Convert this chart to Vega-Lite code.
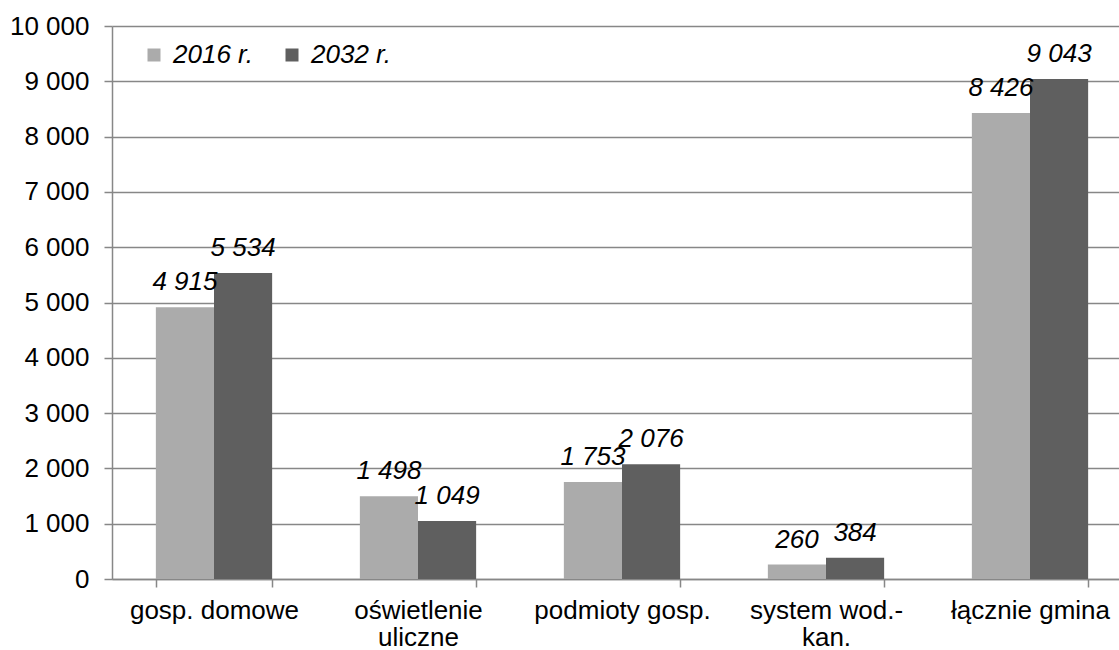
{
  "$schema": "https://vega.github.io/schema/vega-lite/v6.json",
  "width": 1007,
  "height": 553,
  "autosize": "none",
  "padding": {"left": 112, "top": 26, "right": 0, "bottom": 71},
  "background": "white",
  "config": {
    "locale": {"number": {"decimal": ",", "thousands": " ", "grouping": [3], "currency": ["", " zł"]}},
    "view": {"stroke": null},
    "font": "Liberation Sans"
  },
  "data": {
    "values": [
      {"kategoria": "gosp. domowe", "rok": "2016 r.", "wartosc": 4915},
      {"kategoria": "gosp. domowe", "rok": "2032 r.", "wartosc": 5534},
      {"kategoria": "oświetlenie|uliczne", "rok": "2016 r.", "wartosc": 1498},
      {"kategoria": "oświetlenie|uliczne", "rok": "2032 r.", "wartosc": 1049},
      {"kategoria": "podmioty gosp.", "rok": "2016 r.", "wartosc": 1753},
      {"kategoria": "podmioty gosp.", "rok": "2032 r.", "wartosc": 2076},
      {"kategoria": "system wod.-|kan.", "rok": "2016 r.", "wartosc": 260},
      {"kategoria": "system wod.-|kan.", "rok": "2032 r.", "wartosc": 384},
      {"kategoria": "łącznie gmina", "rok": "2016 r.", "wartosc": 8426},
      {"kategoria": "łącznie gmina", "rok": "2032 r.", "wartosc": 9043}
    ]
  },
  "encoding": {
    "x": {
      "field": "kategoria",
      "type": "nominal",
      "sort": null,
      "scale": {"range": [0, 1020], "paddingInner": 0.43, "paddingOuter": 0.215},
      "axis": {
        "title": null,
        "labelAngle": 0,
        "labelExpr": "split(datum.label, '|')",
        "labelFontSize": 26,
        "labelColor": "#000000",
        "labelFont": "Liberation Sans",
        "labelLineHeight": 27,
        "labelPadding": 10,
        "labelBaseline": "top",
        "tickBand": "extent",
        "ticks": true,
        "tickSize": 8,
        "tickColor": "#878787",
        "tickWidth": 1.5,
        "domainColor": "#878787",
        "domainWidth": 1.5,
        "grid": false
      }
    },
    "xOffset": {"field": "rok", "type": "nominal", "scale": {"paddingInner": 0, "paddingOuter": 0}},
    "y": {
      "field": "wartosc",
      "type": "quantitative",
      "scale": {"domain": [0, 10000], "nice": false},
      "axis": {
        "title": null,
        "values": [0, 1000, 2000, 3000, 4000, 5000, 6000, 7000, 8000, 9000, 10000],
        "format": ",d",
        "labelFontSize": 26,
        "labelColor": "#000000",
        "labelFont": "Liberation Sans",
        "labelPadding": 15,
        "tickSize": 8,
        "tickColor": "#878787",
        "tickWidth": 1.5,
        "domainColor": "#878787",
        "domainWidth": 1.5,
        "grid": true,
        "gridColor": "#878787",
        "gridWidth": 1.5
      }
    }
  },
  "layer": [
    {
      "mark": {"type": "bar"},
      "encoding": {
        "color": {
          "field": "rok",
          "type": "nominal",
          "scale": {"domain": ["2016 r.", "2032 r."], "range": ["#ababab", "#5f5f5f"]},
          "legend": {
            "title": null,
            "orient": "none",
            "direction": "horizontal",
            "legendX": 29,
            "legendY": 16,
            "padding": 0,
            "symbolType": "square",
            "symbolSize": 169,
            "symbolStrokeWidth": 0,
            "labelFontSize": 26,
            "labelFontStyle": "italic",
            "labelFont": "Liberation Sans",
            "labelColor": "#000000",
            "labelOffset": 6,
            "columnPadding": 26
          }
        }
      }
    },
    {
      "mark": {"type": "text", "baseline": "alphabetic", "dy": -17, "fontSize": 26, "fontStyle": "italic", "font": "Liberation Sans", "color": "#000000"},
      "encoding": {
        "text": {"field": "wartosc", "type": "quantitative", "format": ",d"}
      }
    }
  ]
}
